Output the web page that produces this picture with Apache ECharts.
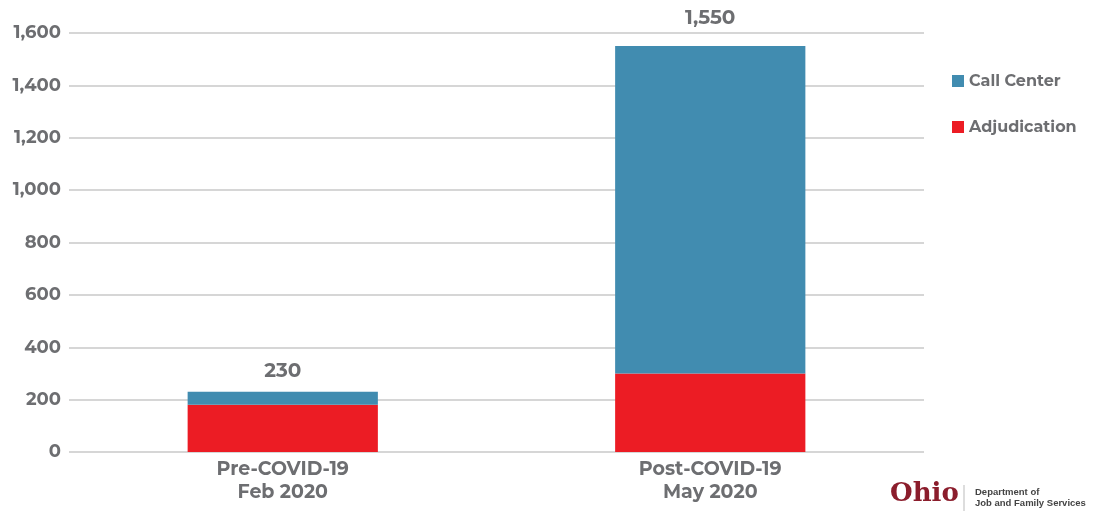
<!DOCTYPE html>
<html>
<head>
<meta charset="utf-8">
<title>Claims staff</title>
<script src="https://cdn.jsdelivr.net/npm/echarts@6/dist/echarts.min.js"></script>
<style>
  html, body { margin: 0; padding: 0; background: #ffffff; }
  #chart { width: 1109px; height: 514px; }
</style>
</head>
<body>
<div id="chart"></div>
<script>
// Categories and stacked series values
const categories = ['Pre-COVID-19\nFeb 2020', 'Post-COVID-19\nMay 2020'];
const adjudication = [180, 300];
const callCenter = [50, 1250];
const totals = [230, 1550];
const yTicks = [0, 200, 400, 600, 800, 1000, 1200, 1400, 1600];

const textGray = '#6d6e71';
const fontFam = 'Montserrat, "Open Sans", "Noto Sans", sans-serif';

const chart = echarts.init(document.getElementById('chart'), null, { renderer: 'canvas' });

// Total label above each stack
const labelDistance = [11, 18];

chart.setOption({
  animation: false,
  backgroundColor: '#ffffff',
  grid: { left: 69, right: 185, top: 33, bottom: 62, containLabel: false },
  legend: {
    orient: 'vertical',
    left: 952,
    top: 73,
    padding: 0,
    itemWidth: 12,
    itemHeight: 12,
    itemGap: 30,
    icon: 'rect',
    textStyle: { color: textGray, fontSize: 16, fontWeight: 'bold', fontFamily: fontFam, padding: [0, 0, 0, 0] },
    data: ['Call Center', 'Adjudication']
  },
  xAxis: {
    type: 'category',
    data: categories,
    axisLine: { show: false },
    axisTick: { show: false },
    axisLabel: {
      color: textGray,
      fontSize: 19,
      fontWeight: 'bold',
      fontFamily: fontFam,
      lineHeight: 23,
      margin: 6
    }
  },
  yAxis: {
    type: 'value',
    min: yTicks[0],
    max: yTicks[yTicks.length - 1],
    interval: 200,
    axisLine: { show: false },
    axisTick: { show: false },
    splitLine: { lineStyle: { color: '#c8c8c8', width: 1.5 } },
    axisLabel: {
      color: textGray,
      fontSize: 18,
      fontWeight: 'bold',
      fontFamily: fontFam,
      margin: 8,
      formatter: v => v.toLocaleString('en-US')
    }
  },
  series: [
    {
      name: 'Adjudication',
      type: 'bar',
      stack: 'staff',
      barWidth: '44.5%',
      itemStyle: { color: '#ec1c24' },
      data: adjudication
    },
    {
      name: 'Call Center',
      type: 'bar',
      stack: 'staff',
      barWidth: '44.5%',
      itemStyle: { color: '#418cb0' },
      data: callCenter.map((v, i) => ({ value: v, label: { distance: labelDistance[i] } })),
      label: {
        show: true,
        position: 'top',
        color: textGray,
        fontSize: 20,
        fontWeight: 'bold',
        fontFamily: fontFam,
        formatter: p => totals[p.dataIndex].toLocaleString('en-US')
      }
    }
  ],
  graphic: [
    {
      type: 'text',
      left: 890,
      top: 481,
      style: {
        text: 'Ohio',
        fill: '#8b1d2c',
        font: 'bold 26px "DejaVu Serif", "Liberation Serif", serif'
      }
    },
    {
      type: 'line',
      shape: { x1: 964, y1: 485, x2: 964, y2: 511 },
      style: { stroke: '#bbbbbb', lineWidth: 1 }
    },
    {
      type: 'text',
      left: 975,
      top: 487,
      style: {
        text: 'Department of\nJob and Family Services',
        fill: '#444444',
        font: 'bold 9.5px "Liberation Sans", Arial, sans-serif',
        lineHeight: 11
      }
    }
  ]
});
</script>
</body>
</html>
